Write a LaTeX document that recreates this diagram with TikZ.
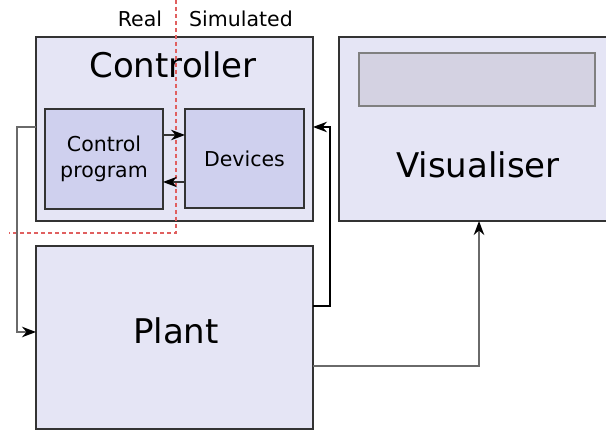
\documentclass[tikz,border=0pt]{standalone}
\usepackage{fontspec}
\setmainfont{DejaVu Sans}
\usetikzlibrary{arrows.meta,positioning}
\definecolor{boxfill}{HTML}{E5E5F5}
\definecolor{innerfill}{HTML}{CFD0EE}
\definecolor{screenfill}{HTML}{D4D2E2}
\definecolor{edgegray}{HTML}{333333}
\definecolor{wiregray}{HTML}{6A6A6A}
\definecolor{splitred}{HTML}{E06060}
\tikzset{
  block/.style={draw=edgegray, line width=2pt, fill=boxfill, inner sep=0pt, outer sep=0pt, anchor=north west},
  subblock/.style={draw=edgegray, line width=1.6pt, fill=innerfill, inner sep=0pt, outer sep=0pt, anchor=north west},
  screen/.style={draw=gray, line width=1.4pt, fill=screenfill, inner sep=0pt, outer sep=0pt, anchor=north west},
  bigtext/.style={font=\fontsize{34}{40}\selectfont, inner sep=0pt},
  smalltext/.style={font=\fontsize{20.5}{26}\selectfont, inner sep=0pt, align=center},
  tip/.style={-{Stealth[length=14pt,width=10.5pt,inset=4.5pt,color=black]}},
  wire/.style={tip, line width=1.8pt, draw=wiregray},
  blackwire/.style={tip, line width=1.4pt, draw=black},
  splitline/.style={draw=splitred, line width=1.4pt, dash pattern=on 4pt off 3pt}
}
\begin{document}
\begin{tikzpicture}[x=1pt,y=-1pt]
\useasboundingbox (0,0) rectangle (606,430);

% main blocks
\node[block, minimum width=277pt, minimum height=184pt] (ctrl) at (36,37) {};
\node[block, minimum width=278pt, minimum height=184pt] (vis) at (339,37) {};
\node[block, minimum width=277pt, minimum height=183pt] (plant) at (36,246) {};

% inner parts of the controller and the visualiser display
\node[subblock, minimum width=118pt, minimum height=100pt] (prog) at (45,109) {};
\node[subblock, minimum width=119pt, minimum height=99pt] (dev) at (185,109) {};
\node[screen, minimum width=236pt, minimum height=53pt] (disp) at (359,53) {};

% labels
\node[bigtext] (ctrltxt) at (173,65) {Controller};
\node[bigtext] (vistxt) at (478,165) {Visualiser};
\node[bigtext] (planttxt) at (176,331) {Plant};
\node[smalltext] (progtxt) at (prog.center) {Control\\program};
\node[smalltext] (devtxt) at (dev.center) {Devices};
\node[smalltext, anchor=base] (realtxt) at (140,27) {Real};
\node[smalltext, anchor=base] (simtxt) at (241,27) {Simulated};

% real / simulated boundary
\coordinate (splittop) at (176,0);
\coordinate (splitcorner) at (176,233);
\coordinate (splitend) at (9,233);
\draw[splitline] (splittop) -- (splitcorner) -- (splitend);

% program <-> devices
\draw[blackwire, draw=edgegray] ([yshift=-26pt]prog.north east) -- ([yshift=-26pt]dev.north west);
\draw[blackwire, draw=edgegray] ([yshift=-73pt]dev.north west) -- ([yshift=-73pt]prog.north east);

% controller -> plant
\coordinate (lturn1) at (17,127);
\coordinate (lturn2) at (17,332);
\draw[wire] ([yshift=2pt]ctrl.west) -- (lturn1) -- (lturn2) -- ([yshift=5.5pt]plant.west);

% plant -> controller
\coordinate (rturn1) at (330,306);
\coordinate (rturn2) at (330,127);
\draw[blackwire] ([yshift=31.5pt]plant.east) -- (rturn1) -- (rturn2) -- ([yshift=2pt]ctrl.east);

% plant -> visualiser
\coordinate (vturn) at (479,366);
\draw[wire] ([yshift=-28.5pt]plant.east) -- (vturn) -- (vturn |- vis.south);
\end{tikzpicture}
\end{document}
